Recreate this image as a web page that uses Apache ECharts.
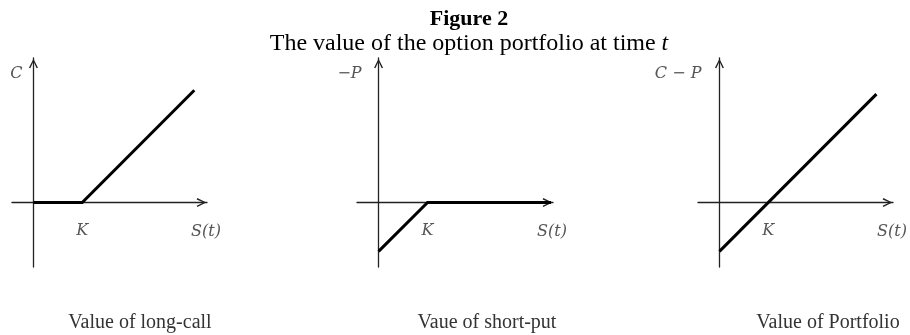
<!DOCTYPE html>
<html>
<head>
<meta charset="utf-8">
<script src="https://cdn.jsdelivr.net/npm/echarts@6/dist/echarts.min.js"></script>
<style>
  html, body { margin: 0; padding: 0; background: #fff; }
  #chart { width: 910px; height: 335px; }
</style>
</head>
<body>
<div id="chart"></div>
<script>
// Payoff diagrams: strike K = 50, stock price S(t) on the x axis.
const strikeK = 50;
const tickLabels = ['K'];
const panelTitles = ['Value of long-call', 'Vaue of short-put', 'Value of Portfolio'];
const yNames = ['C', '\u2212P', 'C \u2212 P'];
const xName = 'S(t)';

// [S, payoff] break points of each payoff line
const longCall = [[0, 0], [50, 0], [165, 115]];
const shortPut = [[0, -50], [50, 0], [176, 0]];
const portfolio = [[0, -50], [161, 111]];
const seriesData = [longCall, shortPut, portfolio];

const xRange = [-22, 178];
const yRange = [-66, 148];

// open chevron arrow head, pointing up
const arrowPath = 'path://M0,10 L5,0 L10,10 L8.5,10.7 L5,3.2 L1.5,10.7 Z';

const gridBoxes = [
  { left: 12, width: 195 },
  { left: 357, width: 196 },
  { left: 698, width: 195 }
];
const yNamePad = [11, 17, 18];
const captionCenters = [135, 482, 823];

const mathFont = { fontFamily: 'DejaVu Serif', fontStyle: 'italic', fontSize: 16, color: '#555' };

const grids = [], xAxes = [], yAxes = [], series = [], titles = [];

titles.push({
  text: 'Figure 2',
  subtext: 'The value of the option portfolio at time {i|t}',
  left: 464, top: 3, textAlign: 'center',
  itemGap: 2,
  textStyle: { fontFamily: 'Liberation Serif', fontWeight: 'bold', fontSize: 22, color: '#000' },
  subtextStyle: {
    fontFamily: 'Liberation Serif', fontSize: 24, color: '#000',
    rich: { i: { fontFamily: 'Liberation Serif', fontStyle: 'italic', fontSize: 24, color: '#000' } }
  }
});

const axisLineStyle = { color: '#222', width: 1.3 };

gridBoxes.forEach((g, i) => {
  grids.push({ left: g.left, width: g.width, top: 58, height: 209 });
  xAxes.push({
    type: 'value', gridIndex: i, min: xRange[0], max: xRange[1],
    name: xName, nameLocation: 'end', nameGap: -1,
    nameTextStyle: Object.assign({ align: 'center', verticalAlign: 'top', padding: [21, 0, 0, 0] }, mathFont),
    axisLine: { onZero: true, symbol: ['none', arrowPath], symbolSize: [9, 11], symbolOffset: [0, -5.5],
      lineStyle: axisLineStyle },
    axisTick: { show: false },
    splitLine: { show: false },
    axisLabel: Object.assign({ customValues: [strikeK], margin: -44,
      formatter: () => tickLabels[0] }, mathFont)
  });
  yAxes.push({
    type: 'value', gridIndex: i, min: yRange[0], max: yRange[1],
    name: yNames[i], nameLocation: 'end', nameGap: -24,
    nameTextStyle: Object.assign({ align: 'right', verticalAlign: 'bottom', padding: [0, yNamePad[i], 0, 0] }, mathFont),
    axisLine: { onZero: true, symbol: ['none', arrowPath], symbolSize: [9, 11], symbolOffset: [0, -5.5],
      lineStyle: axisLineStyle },
    axisTick: { show: false },
    splitLine: { show: false },
    axisLabel: { show: false }
  });
  series.push({
    type: 'line', xAxisIndex: i, yAxisIndex: i,
    data: seriesData[i], showSymbol: false, symbol: 'none',
    lineStyle: { color: '#000', width: 3, cap: 'butt', join: 'miter' },
    silent: true, animation: false, z: 1
  });
  titles.push({
    text: panelTitles[i], left: captionCenters[i], top: 308, textAlign: 'center',
    textStyle: { fontFamily: 'Liberation Serif', fontWeight: 'normal', fontSize: 20, color: '#333' }
  });
});

const chart = echarts.init(document.getElementById('chart'), null, { renderer: 'canvas' });
chart.setOption({
  backgroundColor: '#fff',
  animation: false,
  title: titles,
  grid: grids,
  xAxis: xAxes,
  yAxis: yAxes,
  series: series
});
</script>
</body>
</html>
